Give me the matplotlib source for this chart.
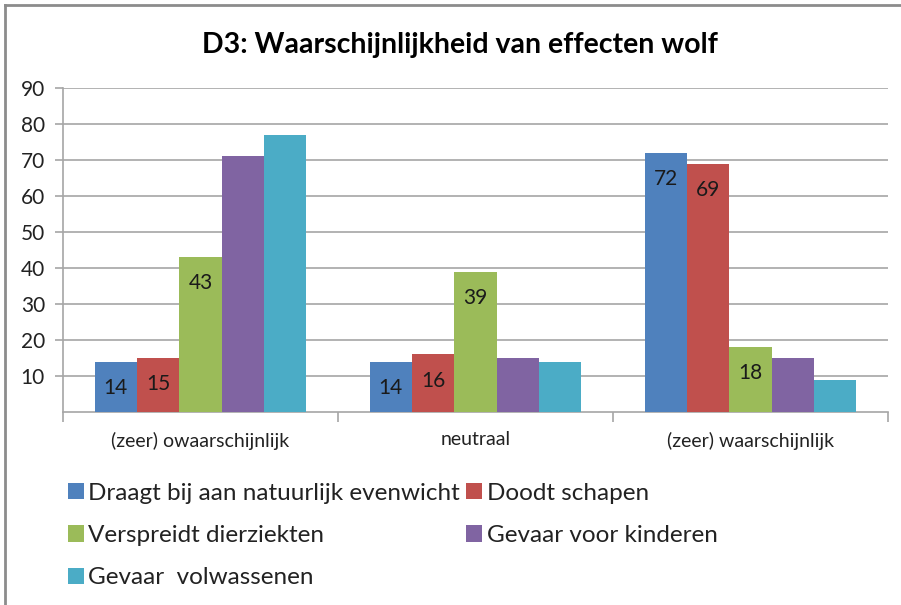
import matplotlib
matplotlib.use("Agg")
import matplotlib.pyplot as plt
import numpy as np
from matplotlib.lines import Line2D

categories = ["(zeer) owaarschijnlijk", "neutraal", "(zeer) waarschijnlijk"]
series_names = ["Draagt bij aan natuurlijk evenwicht", "Doodt schapen",
                "Verspreidt dierziekten", "Gevaar voor kinderen", "Gevaar  volwassenen"]
values = {
    "Draagt bij aan natuurlijk evenwicht": [14, 14, 72],
    "Doodt schapen": [15, 16, 69],
    "Verspreidt dierziekten": [43, 39, 18],
    "Gevaar voor kinderen": [71, 15, 15],
    "Gevaar  volwassenen": [77, 14, 9],
}
labeled = {"Draagt bij aan natuurlijk evenwicht", "Doodt schapen", "Verspreidt dierziekten"}
colors = ["#4F81BD", "#C0504D", "#9BBB59", "#8064A2", "#4BACC6"]
yticks = [10, 20, 30, 40, 50, 60, 70, 80, 90]

plt.rcParams['font.family'] = ['Lato', 'DejaVu Sans']

fig = plt.figure(figsize=(9.01, 6.05), dpi=100)
ax = fig.add_axes([63/901, 1-412/605, (888-63)/901, (412-88)/605])

n = len(series_names)
w = 1/(n+1.5)
x = np.arange(len(categories))
handles = []
for i, name in enumerate(series_names):
    pos = x + (i - (n-1)/2)*w
    b = ax.bar(pos, values[name], width=w, color=colors[i], label=name, zorder=3)
    handles.append(b)
    if name in labeled:
        for xp, v in zip(pos, values[name]):
            ax.text(xp, v - 7.3, str(v), ha='center', va='center', fontsize=15, color='#1a1a1a', zorder=4)

ax.set_xlim(-0.5, 2.5)
ax.set_ylim(0, 90)
ax.set_yticks(yticks)
ax.set_yticklabels([str(t) for t in yticks], fontsize=15, color='#222222')
ax.yaxis.grid(True, color='#a6a6a6', linewidth=1.2, zorder=0)
ax.set_xticks(x)
ax.set_xticklabels(categories, fontsize=14, color='#222222')
ax.set_xticks([-0.5, 0.5, 1.5, 2.5], minor=True)
ax.tick_params(axis='x', which='major', length=0, pad=14)
ax.tick_params(axis='x', which='minor', length=7, color='#a6a6a6', width=1.2)
ax.tick_params(axis='y', length=6, color='#a6a6a6', width=1.2, pad=7)
for s in ['top', 'right']:
    ax.spines[s].set_visible(False)
for s in ['left', 'bottom']:
    ax.spines[s].set_color('#a6a6a6')
    ax.spines[s].set_linewidth(1.2)

fig.text(460/901, 1-45/605, "D3: Waarschijnlijkheid van effecten wolf", ha='center', va='center',
         fontsize=20.5, fontweight='bold')

order = [0, 2, 4, 1, 3]
leg = fig.legend([handles[i] for i in order], [series_names[i] for i in order], ncol=2,
                 loc='upper left', bbox_to_anchor=(58/901, 1-473/605), frameon=False,
                 fontsize=17.5, handlelength=0.65, handleheight=0.65, handletextpad=0.2,
                 columnspacing=0.25, labelspacing=0.88, borderaxespad=0)
for t in leg.get_texts():
    t.set_color('#222222')

fig.add_artist(Line2D([5/901, 5/901], [0, 1-5/605], transform=fig.transFigure, color='#8c8c8c', linewidth=2))
fig.add_artist(Line2D([5/901, 1], [1-5/605, 1-5/605], transform=fig.transFigure, color='#8c8c8c', linewidth=2))

fig.savefig("out.png", dpi=100)
